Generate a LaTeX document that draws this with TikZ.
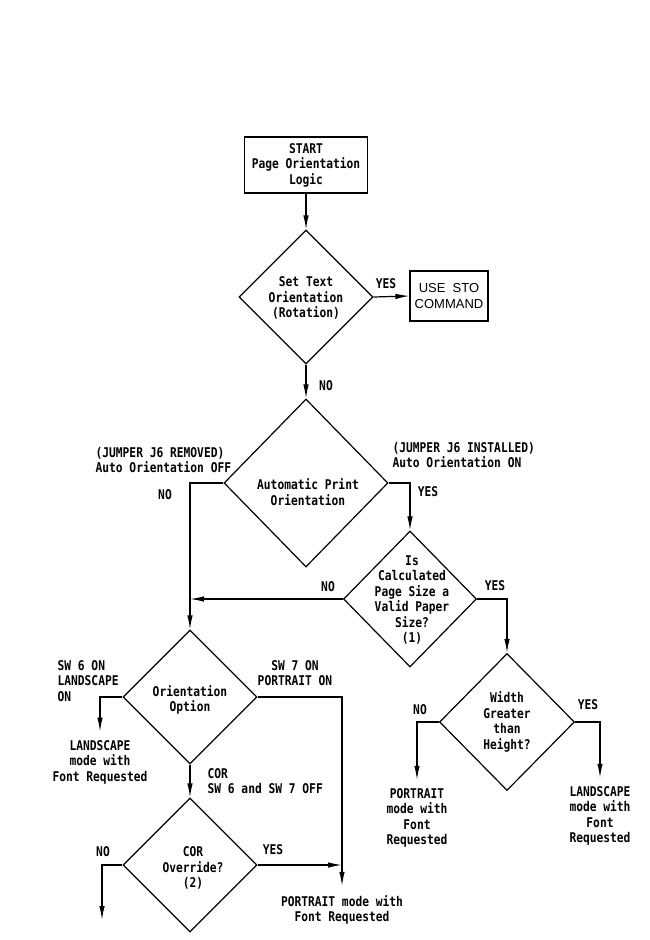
\documentclass[tikz,border=0pt]{standalone}
\usepackage{fontspec}
\setmainfont{Liberation Sans}
\newfontfamily\plotfont{DejaVu Sans Mono}[FakeStretch=0.84]
\usetikzlibrary{shapes.geometric,arrows.meta}
\begin{document}
\begin{tikzpicture}[x=1pt,y=-1pt,
  line width=1.2pt,
  txt/.style={font=\plotfont\bfseries\fontsize{13.4}{15.5}\selectfont, inner sep=0pt, align=center},
  ltxt/.style={txt, align=left, anchor=west},
  dia/.style={draw, shape=diamond, inner sep=0pt},
  box/.style={draw, rectangle, inner sep=0pt},
  arr/.style={-{Latex[length=14pt,width=5.5pt]}},
]
\useasboundingbox (0,0) rectangle (649,940);

% boxes
\node[box, txt, minimum width=123, minimum height=56] (start) at (306,165) {START\\Page Orientation\\Logic};
\node[box, minimum width=78, minimum height=50, align=center, inner sep=0pt,
      font=\fontsize{13}{16}\selectfont] (sto) at (449,296) {USE\ \ STO\\COMMAND};

% diamonds
\node[dia, minimum width=134, minimum height=134] (d1) at (306,297) {};
\node[dia, minimum width=164, minimum height=168] (d2) at (306,483) {};
\node[dia, minimum width=134, minimum height=134] (d3) at (190,697) {};
\node[dia, minimum width=133, minimum height=136] (d4) at (410,599) {};
\node[dia, minimum width=135, minimum height=137] (d5) at (507,722) {};
\node[dia, minimum width=134, minimum height=134] (d6) at (190,865) {};

% diamond texts
\node[txt] (t1) at (306,298) {Set Text\\Orientation\\(Rotation)};
\node[txt] (t2) at (308,492) {Automatic Print\\Orientation};
\node[txt] (t3) at (190,700) {Orientation\\Option};
\node[txt] (t4) at (412,600) {Is\\Calculated\\Page Size a\\Valid Paper\\Size?\\(1)};
\node[txt] (t5) at (507,722) {Width\\Greater\\than\\Height?};
\node[txt] (t6) at (193,868) {COR\\Override?\\(2)};

% result texts
\node[txt] (pl) at (417,818) {PORTRAIT\\mode with\\Font\\Requested};
\node[txt] (ls) at (600,816) {LANDSCAPE\\mode with\\Font\\Requested};
\node[txt] (ll) at (100,762) {LANDSCAPE\\mode with\\Font Requested};
\node[txt] (pp) at (342,910) {PORTRAIT mode with\\Font Requested};

% labels
\node[txt] (y1) at (386,284) {YES};
\node[txt] (n1) at (326,386) {NO};
\node[ltxt] (jr) at (95,460) {(JUMPER J6 REMOVED)\\Auto Orientation OFF};
\node[txt] (n2) at (165,495) {NO};
\node[ltxt] (ji) at (392,455) {(JUMPER J6 INSTALLED)\\Auto Orientation ON};
\node[txt] (y2) at (428,492) {YES};
\node[txt] (n4) at (328,587) {NO};
\node[txt] (y4) at (495,586) {YES};
\node[txt] (n5) at (420,710) {NO};
\node[txt] (y5) at (588,705) {YES};
\node[ltxt] (sw6) at (57,681) {SW 6 ON\\LANDSCAPE\\ON};
\node[txt] (sw7) at (295,673) {SW 7 ON\\PORTRAIT ON};
\node[ltxt] (cor) at (207,781) {COR\\SW 6 and SW 7 OFF};
\node[txt] (n6) at (103,852) {NO};
\node[txt] (y6) at (273,850) {YES};

\coordinate (e6) at (102,920);

% connectors
\draw[arr] (start.south) -- (d1.north);
\draw[arr] (d1.east) -- (sto.west);
\draw[arr] (d1.south) -- (d2.north);
\draw[arr] (d2.west) -| (d3.north);
\draw[arr] (d4.west) -- (d4.west -| d3.north);
\draw[arr] (d2.east) -| (d4.north);
\draw[arr] (d4.east) -| (d5.north);
\draw[arr, shorten >=8pt] (d5.west) -| (pl.north);
\draw[arr, shorten >=8pt] (d5.east) -| (ls.north);
\draw[arr, shorten >=8pt] (d3.west) -| (ll.north);
\draw[arr] (d3.south) -- (d6.north);
\draw[arr, shorten >=9pt] (d3.east) -| (pp.north);
\draw[arr] (d6.east) -- (d6.east -| pp.north);
\draw[arr] (d6.west) -| (e6);
\end{tikzpicture}
\end{document}
